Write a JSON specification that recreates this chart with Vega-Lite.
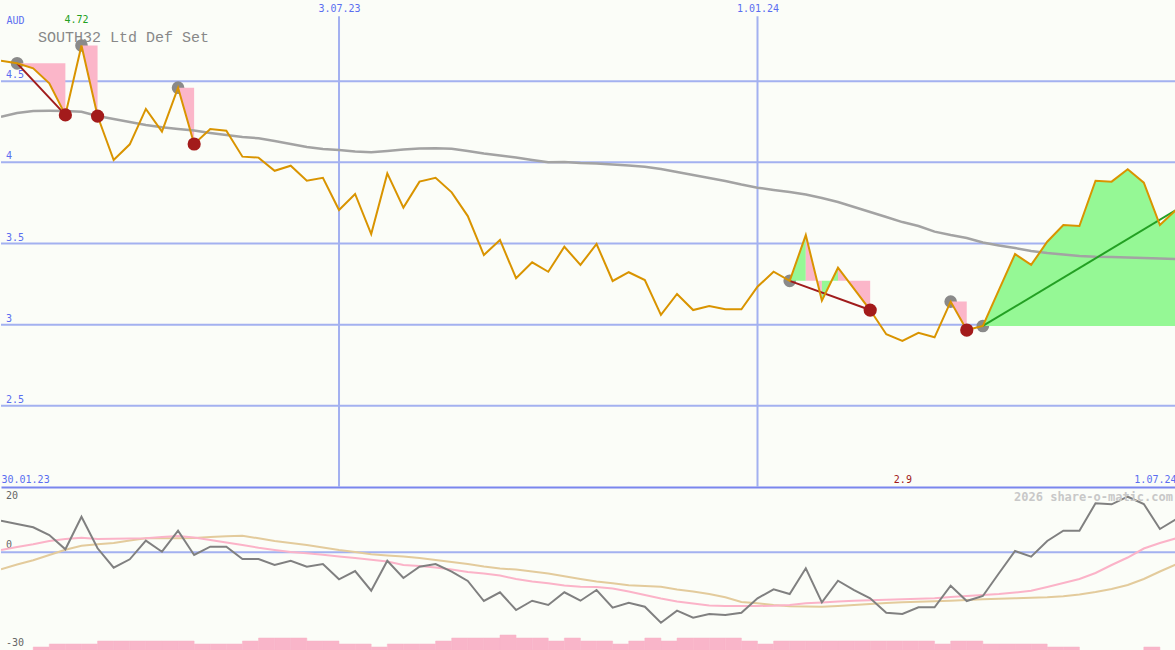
{
  "$schema": "https://vega.github.io/schema/vega-lite/v6.json",
  "padding": 0,
  "spacing": 0,
  "bounds": "flush",
  "background": "#fbfdf8",
  "config": {
    "view": {"stroke": null},
    "axis": {"domain": false, "ticks": false, "labelFont": "DejaVu Sans Mono", "labelFontSize": 10},
    "text": {"font": "DejaVu Sans Mono"}
  },
  "datasets": {
    "ylev": [{"v": 2.5, "lab": "2.5"}, {"v": 3, "lab": "3"}, {"v": 3.5, "lab": "3.5"}, {"v": 4, "lab": "4"}, {"v": 4.5, "lab": "4.5"}],
    "ilev": [{"v": 20, "lab": "20"}, {"v": 0, "lab": "0"}, {"v": -30, "lab": "-30"}],
    "w": [
      {"date": "2023-02-06", "p": 4.626, "ma": 4.281, "g": 9.66, "pk": 0.67, "tn": -5.25},
      {"date": "2023-02-13", "p": 4.610, "ma": 4.304, "g": 8.65, "pk": 1.60, "tn": -3.77},
      {"date": "2023-02-20", "p": 4.579, "ma": 4.316, "g": 7.64, "pk": 2.45, "tn": -2.48},
      {"date": "2023-02-27", "p": 4.487, "ma": 4.317, "g": 5.28, "pk": 3.44, "tn": -0.86},
      {"date": "2023-03-06", "p": 4.292, "ma": 4.316, "g": 0.89, "pk": 4.05, "tn": 0.74},
      {"date": "2023-03-13", "p": 4.720, "ma": 4.312, "g": 10.89, "pk": 4.45, "tn": 1.96},
      {"date": "2023-03-20", "p": 4.285, "ma": 4.285, "g": 1.20, "pk": 4.05, "tn": 2.42},
      {"date": "2023-03-27", "p": 4.014, "ma": 4.267, "g": -4.75, "pk": 4.11, "tn": 2.82},
      {"date": "2023-04-03", "p": 4.111, "ma": 4.248, "g": -2.18, "pk": 4.20, "tn": 3.59},
      {"date": "2023-04-10", "p": 4.329, "ma": 4.230, "g": 3.53, "pk": 4.29, "tn": 4.26},
      {"date": "2023-04-17", "p": 4.189, "ma": 4.216, "g": 0.15, "pk": 4.66, "tn": 4.26},
      {"date": "2023-04-24", "p": 4.460, "ma": 4.205, "g": 6.60, "pk": 4.97, "tn": 4.26},
      {"date": "2023-05-01", "p": 4.113, "ma": 4.196, "g": -0.86, "pk": 4.51, "tn": 4.36},
      {"date": "2023-05-08", "p": 4.205, "ma": 4.181, "g": 1.69, "pk": 3.74, "tn": 4.66},
      {"date": "2023-05-15", "p": 4.195, "ma": 4.168, "g": 1.69, "pk": 2.98, "tn": 4.88},
      {"date": "2023-05-22", "p": 4.035, "ma": 4.156, "g": -2.09, "pk": 2.21, "tn": 5.03},
      {"date": "2023-05-29", "p": 4.029, "ma": 4.148, "g": -2.09, "pk": 1.38, "tn": 4.26},
      {"date": "2023-06-05", "p": 3.948, "ma": 4.131, "g": -3.93, "pk": 0.67, "tn": 3.44},
      {"date": "2023-06-12", "p": 3.979, "ma": 4.113, "g": -2.61, "pk": 0.06, "tn": 2.82},
      {"date": "2023-06-19", "p": 3.887, "ma": 4.094, "g": -4.45, "pk": -0.34, "tn": 2.21},
      {"date": "2023-06-26", "p": 3.905, "ma": 4.082, "g": -3.62, "pk": -0.80, "tn": 1.44},
      {"date": "2023-07-03", "p": 3.706, "ma": 4.076, "g": -8.31, "pk": -1.32, "tn": 0.67},
      {"date": "2023-07-10", "p": 3.805, "ma": 4.067, "g": -5.77, "pk": -1.78, "tn": 0.06},
      {"date": "2023-07-17", "p": 3.558, "ma": 4.062, "g": -11.81, "pk": -2.30, "tn": -0.64},
      {"date": "2023-07-24", "p": 3.932, "ma": 4.070, "g": -2.61, "pk": -2.85, "tn": -1.01},
      {"date": "2023-07-31", "p": 3.721, "ma": 4.079, "g": -7.91, "pk": -3.93, "tn": -1.32},
      {"date": "2023-08-07", "p": 3.881, "ma": 4.085, "g": -4.45, "pk": -4.23, "tn": -1.78},
      {"date": "2023-08-14", "p": 3.905, "ma": 4.086, "g": -3.62, "pk": -4.69, "tn": -2.39},
      {"date": "2023-08-21", "p": 3.815, "ma": 4.083, "g": -5.98, "pk": -5.31, "tn": -3.01},
      {"date": "2023-08-28", "p": 3.669, "ma": 4.070, "g": -8.83, "pk": -6.07, "tn": -3.62},
      {"date": "2023-09-04", "p": 3.429, "ma": 4.054, "g": -14.97, "pk": -6.53, "tn": -4.39},
      {"date": "2023-09-11", "p": 3.522, "ma": 4.042, "g": -12.30, "pk": -7.15, "tn": -5.00},
      {"date": "2023-09-18", "p": 3.286, "ma": 4.030, "g": -17.73, "pk": -8.22, "tn": -5.31},
      {"date": "2023-09-25", "p": 3.384, "ma": 4.014, "g": -14.88, "pk": -8.99, "tn": -5.92},
      {"date": "2023-10-02", "p": 3.326, "ma": 4.000, "g": -16.20, "pk": -9.54, "tn": -6.53},
      {"date": "2023-10-09", "p": 3.480, "ma": 4.002, "g": -12.30, "pk": -10.21, "tn": -7.39},
      {"date": "2023-10-16", "p": 3.368, "ma": 3.996, "g": -14.88, "pk": -10.61, "tn": -8.22},
      {"date": "2023-10-23", "p": 3.497, "ma": 3.993, "g": -11.60, "pk": -10.67, "tn": -8.99},
      {"date": "2023-10-30", "p": 3.269, "ma": 3.987, "g": -17.02, "pk": -11.13, "tn": -9.54},
      {"date": "2023-11-06", "p": 3.323, "ma": 3.980, "g": -15.49, "pk": -12.06, "tn": -10.12},
      {"date": "2023-11-13", "p": 3.275, "ma": 3.973, "g": -16.72, "pk": -13.13, "tn": -10.37},
      {"date": "2023-11-20", "p": 3.060, "ma": 3.959, "g": -21.63, "pk": -14.20, "tn": -10.61},
      {"date": "2023-11-27", "p": 3.189, "ma": 3.940, "g": -17.94, "pk": -15.12, "tn": -11.44},
      {"date": "2023-12-04", "p": 3.090, "ma": 3.922, "g": -20.09, "pk": -15.74, "tn": -12.06},
      {"date": "2023-12-11", "p": 3.115, "ma": 3.903, "g": -18.96, "pk": -16.35, "tn": -12.82},
      {"date": "2023-12-18", "p": 3.095, "ma": 3.885, "g": -19.26, "pk": -16.50, "tn": -13.83},
      {"date": "2023-12-25", "p": 3.095, "ma": 3.863, "g": -18.56, "pk": -16.50, "tn": -15.28},
      {"date": "2024-01-01", "p": 3.234, "ma": 3.844, "g": -14.14, "pk": -16.50, "tn": -15.67},
      {"date": "2024-01-08", "p": 3.326, "ma": 3.830, "g": -11.38, "pk": -16.41, "tn": -16.20},
      {"date": "2024-01-15", "p": 3.270, "ma": 3.817, "g": -12.82, "pk": -16.20, "tn": -16.56},
      {"date": "2024-01-22", "p": 3.552, "ma": 3.802, "g": -4.94, "pk": -15.67, "tn": -16.66},
      {"date": "2024-01-29", "p": 3.148, "ma": 3.780, "g": -15.37, "pk": -15.43, "tn": -16.72},
      {"date": "2024-02-05", "p": 3.351, "ma": 3.756, "g": -8.74, "pk": -15.12, "tn": -16.50},
      {"date": "2024-02-12", "p": 3.220, "ma": 3.725, "g": -11.60, "pk": -14.91, "tn": -16.20},
      {"date": "2024-02-19", "p": 3.090, "ma": 3.694, "g": -14.14, "pk": -14.75, "tn": -15.89},
      {"date": "2024-02-26", "p": 2.941, "ma": 3.663, "g": -18.56, "pk": -14.57, "tn": -15.58},
      {"date": "2024-03-04", "p": 2.900, "ma": 3.632, "g": -18.96, "pk": -14.45, "tn": -15.34},
      {"date": "2024-03-11", "p": 2.950, "ma": 3.608, "g": -16.90, "pk": -14.29, "tn": -15.21},
      {"date": "2024-03-18", "p": 2.922, "ma": 3.573, "g": -16.90, "pk": -14.11, "tn": -15.06},
      {"date": "2024-03-25", "p": 3.142, "ma": 3.552, "g": -10.28, "pk": -13.74, "tn": -14.88},
      {"date": "2024-04-01", "p": 2.967, "ma": 3.534, "g": -14.97, "pk": -13.44, "tn": -14.66},
      {"date": "2024-04-08", "p": 2.992, "ma": 3.506, "g": -13.44, "pk": -13.13, "tn": -14.45},
      {"date": "2024-04-15", "p": 3.214, "ma": 3.488, "g": -6.47, "pk": -12.82, "tn": -14.29},
      {"date": "2024-04-22", "p": 3.435, "ma": 3.472, "g": 0.37, "pk": -12.36, "tn": -14.14},
      {"date": "2024-04-29", "p": 3.368, "ma": 3.454, "g": -1.38, "pk": -11.81, "tn": -13.99},
      {"date": "2024-05-06", "p": 3.511, "ma": 3.441, "g": 3.44, "pk": -10.67, "tn": -13.83},
      {"date": "2024-05-13", "p": 3.614, "ma": 3.432, "g": 6.60, "pk": -9.45, "tn": -13.50},
      {"date": "2024-05-20", "p": 3.608, "ma": 3.423, "g": 6.60, "pk": -8.22, "tn": -12.98},
      {"date": "2024-05-27", "p": 3.887, "ma": 3.418, "g": 15.00, "pk": -6.38, "tn": -12.21},
      {"date": "2024-06-03", "p": 3.881, "ma": 3.417, "g": 14.69, "pk": -3.93, "tn": -11.29},
      {"date": "2024-06-10", "p": 3.957, "ma": 3.414, "g": 17.02, "pk": -1.63, "tn": -10.06},
      {"date": "2024-06-17", "p": 3.875, "ma": 3.411, "g": 14.79, "pk": 1.13, "tn": -8.22},
      {"date": "2024-06-24", "p": 3.614, "ma": 3.408, "g": 7.12, "pk": 2.82, "tn": -5.92},
      {"date": "2024-07-01", "p": 3.706, "ma": 3.404, "g": 10.09, "pk": 4.26, "tn": -3.77}
    ],
    "fills": [
      {"grp": 1, "s": "loss", "date": "2023-02-13", "p": 4.610, "lvl": 4.610},
      {"grp": 1, "s": "loss", "date": "2023-02-20", "p": 4.579, "lvl": 4.610},
      {"grp": 1, "s": "loss", "date": "2023-02-27", "p": 4.487, "lvl": 4.610},
      {"grp": 1, "s": "loss", "date": "2023-03-06", "p": 4.292, "lvl": 4.610},
      {"grp": 2, "s": "loss", "date": "2023-03-13", "p": 4.720, "lvl": 4.720},
      {"grp": 2, "s": "loss", "date": "2023-03-20", "p": 4.285, "lvl": 4.720},
      {"grp": 3, "s": "loss", "date": "2023-04-24", "p": 4.460, "lvl": 4.460},
      {"grp": 3, "s": "loss", "date": "2023-05-01", "p": 4.113, "lvl": 4.460},
      {"grp": 4, "s": "gain", "date": "2024-01-15", "p": 3.270, "lvl": 3.270},
      {"grp": 4, "s": "gain", "date": "2024-01-22", "p": 3.552, "lvl": 3.270},
      {"grp": 5, "s": "loss", "date": "2024-01-22", "p": 3.552, "lvl": 3.270},
      {"grp": 5, "s": "loss", "date": "2024-01-29", "p": 3.148, "lvl": 3.270},
      {"grp": 6, "s": "gain", "date": "2024-01-29", "p": 3.148, "lvl": 3.270},
      {"grp": 6, "s": "gain", "date": "2024-02-05", "p": 3.351, "lvl": 3.270},
      {"grp": 7, "s": "loss", "date": "2024-02-05", "p": 3.351, "lvl": 3.270},
      {"grp": 7, "s": "loss", "date": "2024-02-12", "p": 3.220, "lvl": 3.270},
      {"grp": 7, "s": "loss", "date": "2024-02-19", "p": 3.090, "lvl": 3.270},
      {"grp": 8, "s": "loss", "date": "2024-03-25", "p": 3.142, "lvl": 3.142},
      {"grp": 8, "s": "loss", "date": "2024-04-01", "p": 2.967, "lvl": 3.142},
      {"grp": 9, "s": "gain", "date": "2024-04-08", "p": 2.992, "lvl": 2.992},
      {"grp": 9, "s": "gain", "date": "2024-04-15", "p": 3.214, "lvl": 2.992},
      {"grp": 9, "s": "gain", "date": "2024-04-22", "p": 3.435, "lvl": 2.992},
      {"grp": 9, "s": "gain", "date": "2024-04-29", "p": 3.368, "lvl": 2.992},
      {"grp": 9, "s": "gain", "date": "2024-05-06", "p": 3.511, "lvl": 2.992},
      {"grp": 9, "s": "gain", "date": "2024-05-13", "p": 3.614, "lvl": 2.992},
      {"grp": 9, "s": "gain", "date": "2024-05-20", "p": 3.608, "lvl": 2.992},
      {"grp": 9, "s": "gain", "date": "2024-05-27", "p": 3.887, "lvl": 2.992},
      {"grp": 9, "s": "gain", "date": "2024-06-03", "p": 3.881, "lvl": 2.992},
      {"grp": 9, "s": "gain", "date": "2024-06-10", "p": 3.957, "lvl": 2.992},
      {"grp": 9, "s": "gain", "date": "2024-06-17", "p": 3.875, "lvl": 2.992},
      {"grp": 9, "s": "gain", "date": "2024-06-24", "p": 3.614, "lvl": 2.992},
      {"grp": 9, "s": "gain", "date": "2024-07-01", "p": 3.706, "lvl": 2.992}
    ],
    "trend": [
      {"grp": "a", "dir": "down", "date": "2023-02-13", "v": 4.610},
      {"grp": "a", "dir": "down", "date": "2023-03-06", "v": 4.292},
      {"grp": "b", "dir": "down", "date": "2024-01-15", "v": 3.270},
      {"grp": "b", "dir": "down", "date": "2024-02-19", "v": 3.090},
      {"grp": "c", "dir": "up", "date": "2024-04-08", "v": 2.992},
      {"grp": "c", "dir": "up", "date": "2024-07-01", "v": 3.706}
    ],
    "pts": [
      {"date": "2023-02-13", "p": 4.610, "k": "start"},
      {"date": "2023-03-13", "p": 4.720, "k": "start"},
      {"date": "2023-04-24", "p": 4.460, "k": "start"},
      {"date": "2024-01-15", "p": 3.270, "k": "start"},
      {"date": "2024-03-25", "p": 3.142, "k": "start"},
      {"date": "2024-04-08", "p": 2.992, "k": "start"},
      {"date": "2023-03-06", "p": 4.292, "k": "end"},
      {"date": "2023-03-20", "p": 4.285, "k": "end"},
      {"date": "2023-05-01", "p": 4.113, "k": "end"},
      {"date": "2024-02-19", "p": 3.090, "k": "end"},
      {"date": "2024-04-01", "p": 2.967, "k": "end"}
    ],
    "vol": [
      {"date": "2023-02-20", "end": "2023-02-27", "v": 1},
      {"date": "2023-02-27", "end": "2023-03-06", "v": 2},
      {"date": "2023-03-06", "end": "2023-03-13", "v": 2},
      {"date": "2023-03-13", "end": "2023-03-20", "v": 2},
      {"date": "2023-03-20", "end": "2023-03-27", "v": 3},
      {"date": "2023-03-27", "end": "2023-04-03", "v": 3},
      {"date": "2023-04-03", "end": "2023-04-10", "v": 3},
      {"date": "2023-04-10", "end": "2023-04-17", "v": 3},
      {"date": "2023-04-17", "end": "2023-04-24", "v": 3},
      {"date": "2023-04-24", "end": "2023-05-01", "v": 3},
      {"date": "2023-05-01", "end": "2023-05-08", "v": 2},
      {"date": "2023-05-08", "end": "2023-05-15", "v": 2},
      {"date": "2023-05-15", "end": "2023-05-22", "v": 2},
      {"date": "2023-05-22", "end": "2023-05-29", "v": 3},
      {"date": "2023-05-29", "end": "2023-06-05", "v": 4},
      {"date": "2023-06-05", "end": "2023-06-12", "v": 4},
      {"date": "2023-06-12", "end": "2023-06-19", "v": 4},
      {"date": "2023-06-19", "end": "2023-06-26", "v": 3},
      {"date": "2023-06-26", "end": "2023-07-03", "v": 3},
      {"date": "2023-07-03", "end": "2023-07-10", "v": 2},
      {"date": "2023-07-10", "end": "2023-07-17", "v": 2},
      {"date": "2023-07-17", "end": "2023-07-24", "v": 1},
      {"date": "2023-07-24", "end": "2023-07-31", "v": 2},
      {"date": "2023-07-31", "end": "2023-08-07", "v": 2},
      {"date": "2023-08-07", "end": "2023-08-14", "v": 2},
      {"date": "2023-08-14", "end": "2023-08-21", "v": 3},
      {"date": "2023-08-21", "end": "2023-08-28", "v": 4},
      {"date": "2023-08-28", "end": "2023-09-04", "v": 4},
      {"date": "2023-09-04", "end": "2023-09-11", "v": 4},
      {"date": "2023-09-11", "end": "2023-09-18", "v": 5},
      {"date": "2023-09-18", "end": "2023-09-25", "v": 4},
      {"date": "2023-09-25", "end": "2023-10-02", "v": 4},
      {"date": "2023-10-02", "end": "2023-10-09", "v": 3},
      {"date": "2023-10-09", "end": "2023-10-16", "v": 4},
      {"date": "2023-10-16", "end": "2023-10-23", "v": 3},
      {"date": "2023-10-23", "end": "2023-10-30", "v": 3},
      {"date": "2023-10-30", "end": "2023-11-06", "v": 2},
      {"date": "2023-11-06", "end": "2023-11-13", "v": 3},
      {"date": "2023-11-13", "end": "2023-11-20", "v": 4},
      {"date": "2023-11-20", "end": "2023-11-27", "v": 3},
      {"date": "2023-11-27", "end": "2023-12-04", "v": 4},
      {"date": "2023-12-04", "end": "2023-12-11", "v": 4},
      {"date": "2023-12-11", "end": "2023-12-18", "v": 4},
      {"date": "2023-12-18", "end": "2023-12-25", "v": 4},
      {"date": "2023-12-25", "end": "2024-01-01", "v": 3},
      {"date": "2024-01-01", "end": "2024-01-08", "v": 2},
      {"date": "2024-01-08", "end": "2024-01-15", "v": 3},
      {"date": "2024-01-15", "end": "2024-01-22", "v": 3},
      {"date": "2024-01-22", "end": "2024-01-29", "v": 3},
      {"date": "2024-01-29", "end": "2024-02-05", "v": 3},
      {"date": "2024-02-05", "end": "2024-02-12", "v": 3},
      {"date": "2024-02-12", "end": "2024-02-19", "v": 3},
      {"date": "2024-02-19", "end": "2024-02-26", "v": 3},
      {"date": "2024-02-26", "end": "2024-03-04", "v": 3},
      {"date": "2024-03-04", "end": "2024-03-11", "v": 3},
      {"date": "2024-03-11", "end": "2024-03-18", "v": 3},
      {"date": "2024-03-18", "end": "2024-03-25", "v": 2},
      {"date": "2024-03-25", "end": "2024-04-01", "v": 3},
      {"date": "2024-04-01", "end": "2024-04-08", "v": 3},
      {"date": "2024-04-08", "end": "2024-04-15", "v": 2},
      {"date": "2024-04-15", "end": "2024-04-22", "v": 2},
      {"date": "2024-04-22", "end": "2024-04-29", "v": 2},
      {"date": "2024-04-29", "end": "2024-05-06", "v": 2},
      {"date": "2024-05-06", "end": "2024-05-13", "v": 1},
      {"date": "2024-05-13", "end": "2024-05-20", "v": 1},
      {"date": "2024-06-17", "end": "2024-06-24", "v": 1}
    ]
  },
  "vconcat": [
    {
      "width": 1175,
      "height": 487,
      "title": {"text": "SOUTH32 Ltd Def Set", "anchor": "start", "frame": "group", "orient": "top", "offset": -52, "dx": 37, "baseline": "middle", "font": "Liberation Mono", "fontSize": 15, "fontWeight": "normal", "color": "#888888"},
      "resolve": {"axis": {"x": "independent"}},
      "layer": [
        {
          "data": {"name": "ylev"},
          "mark": {"type": "rule", "color": "#a3b1f0", "strokeWidth": 2},
          "encoding": {
            "y": {"field": "v", "type": "quantitative", "scale": {"domain": [2, 5], "nice": false, "zero": false}, "axis": null}
          }
        },
        {
          "data": {"values": [{"date": "2023-07-03"}, {"date": "2024-01-01"}]},
          "mark": {"type": "rule", "color": "#a3b1f0", "strokeWidth": 2},
          "encoding": {
            "x": {"field": "date", "type": "temporal",
                  "scale": {"domain": [{"year": 2023, "month": 2, "date": 6, "utc": true}, {"year": 2024, "month": 7, "date": 1, "utc": true}]},
                  "axis": {"orient": "top", "values": [{"year": 2023, "month": 7, "date": 3, "utc": true}, {"year": 2024, "month": 1, "date": 1, "utc": true}],
                           "labelExpr": "utcFormat(datum.value, '%-d.%m.%y')", "labelPadding": -8, "labelBaseline": "middle",
                           "grid": false, "domain": false, "ticks": false, "labelColor": "#5a6ef0",
                           "title": "AUD", "titleAngle": 0, "titleX": 5, "titleY": 20, "titleAlign": "left", "titleBaseline": "middle",
                           "titleColor": "#5a6ef0", "titleFont": "DejaVu Sans Mono", "titleFontSize": 10, "titleFontWeight": "normal"}},
            "y": {"datum": 4.9, "scale": {"domain": [2, 5], "nice": false, "zero": false}, "axis": null},
            "y2": {"datum": 2}
          }
        },
        {
          "data": {"name": "ylev"},
          "mark": {"type": "text", "align": "left", "baseline": "alphabetic", "dx": 5, "dy": -3, "color": "#5a6ef0", "fontSize": 10, "font": "DejaVu Sans Mono"},
          "encoding": {
            "x": {"datum": 1675641600000, "type": "temporal", "axis": null,
                  "scale": {"domain": [{"year": 2023, "month": 2, "date": 6, "utc": true}, {"year": 2024, "month": 7, "date": 1, "utc": true}]}},
            "y": {"field": "v", "type": "quantitative", "scale": {"domain": [2, 5], "nice": false, "zero": false}, "axis": null},
            "text": {"field": "lab", "type": "nominal"}
          }
        },
        {
          "data": {"name": "pts"},
          "transform": [{"filter": "datum.k == 'start'"}],
          "mark": {"type": "point", "filled": true, "opacity": 1, "size": 160, "color": "#8a8a8a"},
          "encoding": {
            "x": {"field": "date", "type": "temporal", "axis": null},
            "y": {"field": "p", "type": "quantitative", "scale": {"domain": [2, 5], "nice": false, "zero": false}, "axis": null}
          }
        },
        {
          "data": {"name": "fills"},
          "mark": {"type": "area", "opacity": 1, "clip": true},
          "encoding": {
            "x": {"field": "date", "type": "temporal", "axis": null},
            "y": {"field": "p", "type": "quantitative", "stack": null, "scale": {"domain": [2, 5], "nice": false, "zero": false}, "axis": null},
            "y2": {"field": "lvl"},
            "fill": {"field": "s", "type": "nominal", "scale": {"domain": ["loss", "gain"], "range": ["#fbb6c9", "#95f895"]}, "legend": null},
            "detail": {"field": "grp"}
          }
        },
        {
          "data": {"name": "w"},
          "mark": {"type": "line", "color": "#a3a3a3", "strokeWidth": 2.5, "clip": true},
          "encoding": {
            "x": {"field": "date", "type": "temporal", "axis": null},
            "y": {"field": "ma", "type": "quantitative", "scale": {"domain": [2, 5], "nice": false, "zero": false}, "axis": null}
          }
        },
        {
          "data": {"name": "trend"},
          "mark": {"type": "line", "strokeWidth": 2, "clip": true},
          "encoding": {
            "x": {"field": "date", "type": "temporal", "axis": null},
            "y": {"field": "v", "type": "quantitative", "scale": {"domain": [2, 5], "nice": false, "zero": false}, "axis": null},
            "stroke": {"field": "dir", "type": "nominal", "scale": {"domain": ["down", "up"], "range": ["#a01c1c", "#23a023"]}, "legend": null},
            "detail": {"field": "grp"}
          }
        },
        {
          "data": {"name": "w"},
          "mark": {"type": "line", "color": "#d99400", "strokeWidth": 2, "clip": true},
          "encoding": {
            "x": {"field": "date", "type": "temporal",
                  "scale": {"domain": [{"year": 2023, "month": 2, "date": 6, "utc": true}, {"year": 2024, "month": 7, "date": 1, "utc": true}]},
                  "axis": {"orient": "bottom",
                           "values": [{"year": 2023, "month": 2, "date": 6, "utc": true}, {"year": 2024, "month": 3, "date": 4, "utc": true}, {"year": 2024, "month": 7, "date": 1, "utc": true}],
                           "labelExpr": "utcFormat(datum.value,'%Y%m%d') == '20230206' ? '30.01.23' : (utcFormat(datum.value,'%Y%m%d') == '20240304' ? '2.9' : '1.07.24')",
                           "labelFlush": true, "labelPadding": -8, "labelBaseline": "middle",
                           "domain": true, "domainColor": "#7a86ee", "domainWidth": 2, "ticks": false, "grid": false, "title": null,
                           "labelColor": {"condition": {"test": "utcFormat(datum.value,'%Y%m%d') == '20240304'", "value": "#a01818"}, "value": "#5a6ef0"}}},
            "y": {"field": "p", "type": "quantitative", "scale": {"domain": [2, 5], "nice": false, "zero": false}, "axis": null}
          }
        },
        {
          "data": {"name": "pts"},
          "transform": [{"filter": "datum.k == 'end'"}],
          "mark": {"type": "point", "filled": true, "opacity": 1, "size": 175, "color": "#a31b1b"},
          "encoding": {
            "x": {"field": "date", "type": "temporal", "axis": null},
            "y": {"field": "p", "type": "quantitative", "scale": {"domain": [2, 5], "nice": false, "zero": false}, "axis": null}
          }
        },
        {
          "data": {"name": "w"},
          "transform": [{"joinaggregate": [{"op": "max", "field": "p", "as": "mx"}]}, {"filter": "datum.p == datum.mx"}],
          "mark": {"type": "text", "dy": -25, "dx": -5, "color": "#22a022", "fontSize": 10, "font": "DejaVu Sans Mono"},
          "encoding": {
            "x": {"field": "date", "type": "temporal", "axis": null},
            "y": {"field": "p", "type": "quantitative", "scale": {"domain": [2, 5], "nice": false, "zero": false}, "axis": null},
            "text": {"field": "p", "type": "quantitative", "format": ".2f"}
          }
        }
      ]
    },
    {
      "width": 1175,
      "height": 163,
      "title": {"text": "2026 share-o-matic.com", "anchor": "end", "frame": "group", "orient": "top", "offset": -22, "dx": -3, "baseline": "middle", "font": "DejaVu Sans Mono", "fontSize": 12, "fontWeight": "bold", "color": "#c8c8c8"},
      "resolve": {"scale": {"y": "independent"}},
      "layer": [
        {
          "data": {"name": "vol"},
          "mark": {"type": "rect", "color": "#f9b5c9", "stroke": "#f9b5c9", "strokeWidth": 0.5},
          "encoding": {
            "x": {"field": "date", "type": "temporal", "axis": null,
                  "scale": {"domain": [{"year": 2023, "month": 2, "date": 6, "utc": true}, {"year": 2024, "month": 7, "date": 1, "utc": true}]}},
            "x2": {"field": "end"},
            "y": {"field": "v", "type": "quantitative", "scale": {"domain": [0, 54.33], "nice": false, "zero": false}, "axis": null},
            "y2": {"datum": 0}
          }
        },
        {
          "layer": [
            {
              "data": {"name": "ilev"},
              "transform": [{"filter": "datum.v == 0"}],
              "mark": {"type": "rule", "color": "#a3b1f0", "strokeWidth": 2},
              "encoding": {
                "y": {"field": "v", "type": "quantitative", "scale": {"domain": [-30, 20], "nice": false, "zero": false}, "axis": null}
              }
            },
            {
              "data": {"name": "ilev"},
              "transform": [{"filter": "datum.v != 20"}],
              "mark": {"type": "text", "align": "left", "baseline": "alphabetic", "dx": 5, "dy": -4, "color": "#666666", "fontSize": 10, "font": "DejaVu Sans Mono"},
              "encoding": {
                "x": {"datum": {"year": 2023, "month": 2, "date": 6}, "type": "temporal", "axis": null},
                "y": {"field": "v", "type": "quantitative", "scale": {"domain": [-30, 20], "nice": false, "zero": false}, "axis": null},
                "text": {"field": "lab", "type": "nominal"}
              }
            },
            {
              "data": {"name": "ilev"},
              "transform": [{"filter": "datum.v == 20"}],
              "mark": {"type": "text", "align": "left", "baseline": "top", "dx": 5, "dy": 4, "color": "#666666", "fontSize": 10, "font": "DejaVu Sans Mono"},
              "encoding": {
                "x": {"datum": 1675641600000, "type": "temporal", "axis": null},
                "y": {"field": "v", "type": "quantitative", "scale": {"domain": [-30, 20], "nice": false, "zero": false}, "axis": null},
                "text": {"field": "lab", "type": "nominal"}
              }
            },
            {
              "data": {"name": "w"},
              "mark": {"type": "line", "color": "#e3cb9c", "strokeWidth": 2, "clip": true},
              "encoding": {
                "x": {"field": "date", "type": "temporal",
                      "scale": {"domain": [{"year": 2023, "month": 2, "date": 6, "utc": true}, {"year": 2024, "month": 7, "date": 1, "utc": true}]},
                      "axis": {"values": [{"year": 2023, "month": 7, "date": 3, "utc": true}, {"year": 2024, "month": 1, "date": 1, "utc": true}],
                               "labels": false, "domain": false, "ticks": false, "grid": true, "gridColor": "#a3b1f0", "gridWidth": 2, "title": null}},
                "y": {"field": "tn", "type": "quantitative", "scale": {"domain": [-30, 20], "nice": false, "zero": false}, "axis": null}
              }
            },
            {
              "data": {"name": "w"},
              "mark": {"type": "line", "color": "#fbb3c8", "strokeWidth": 2, "clip": true},
              "encoding": {
                "x": {"field": "date", "type": "temporal", "axis": null},
                "y": {"field": "pk", "type": "quantitative", "scale": {"domain": [-30, 20], "nice": false, "zero": false}, "axis": null}
              }
            },
            {
              "data": {"name": "w"},
              "mark": {"type": "line", "color": "#808080", "strokeWidth": 2, "clip": true},
              "encoding": {
                "x": {"field": "date", "type": "temporal", "axis": null},
                "y": {"field": "g", "type": "quantitative", "scale": {"domain": [-30, 20], "nice": false, "zero": false}, "axis": null}
              }
            }
          ]
        }
      ]
    }
  ]
}
